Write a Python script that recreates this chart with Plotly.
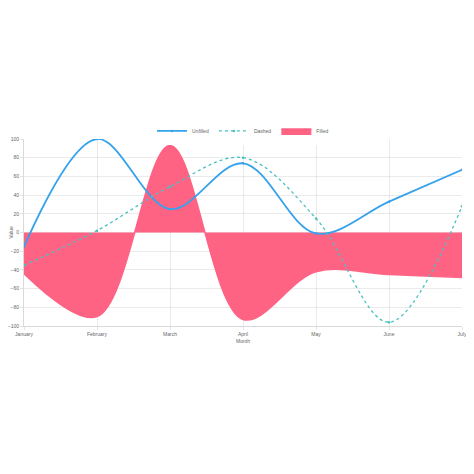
import plotly.graph_objects as go

months = ['January', 'February', 'March', 'April', 'May', 'June', 'July']
unfilled = [-15, 100, 25, 74, -1, 33, 67]
dashed = [-35, 2, 49, 80, 15, -96, 28]
filled = [-44, -90, 93, -93, -42, -45, -48]

font = dict(family='Liberation Sans, Arial, sans-serif', size=5, color='#666')

fig = go.Figure()

# filled first so the lines sit on top of it
fig.add_trace(go.Scatter(
    x=months, y=filled, name='Filled', legendrank=3,
    mode='lines', line=dict(color='rgb(255,99,132)', width=1.5, shape='spline', smoothing=1),
    fill='tozeroy', fillcolor='rgb(255,99,132)'
))
fig.add_trace(go.Scatter(
    x=months, y=unfilled, name='Unfilled', legendrank=1,
    mode='lines+markers', line=dict(color='rgb(54,162,235)', width=1.8, shape='spline', smoothing=1),
    marker=dict(size=2.5, color='rgb(54,162,235)')
))
fig.add_trace(go.Scatter(
    x=months, y=dashed, name='Dashed', legendrank=2,
    mode='lines+markers', line=dict(color='rgb(75,192,192)', width=1.3, dash='dot', shape='spline', smoothing=1),
    marker=dict(size=2.5, color='rgb(75,192,192)')
))

# page body adds 8px on the top/left, margins compensate for it
fig.update_layout(
    width=474, height=474,
    margin=dict(l=16, r=20, t=131, b=156),
    paper_bgcolor='white', plot_bgcolor='white',
    font=font,
    showlegend=True,
    legend=dict(orientation='h', x=0.5, xanchor='center', y=1.043, yanchor='middle',
                font=font, itemwidth=30),
    xaxis=dict(
        type='category', range=[0, 6], automargin=False,
        showgrid=True, gridcolor='rgba(0,0,0,0.08)', gridwidth=1,
        ticks='outside', ticklen=3, tickcolor='rgba(0,0,0,0.1)',
        showline=True, linecolor='rgba(0,0,0,0.15)',
        zeroline=False,
        title=dict(text='Month', font=font, standoff=3),
    ),
    yaxis=dict(
        range=[-100, 100], dtick=20, automargin=False,
        showgrid=True, gridcolor='rgba(0,0,0,0.08)', gridwidth=1,
        ticks='outside', ticklen=3, tickcolor='rgba(0,0,0,0.1)',
        showline=True, linecolor='rgba(0,0,0,0.15)',
        zeroline=False,
        title=dict(text='Value', font=font, standoff=2),
    ),
)

fig.write_html("out.html")
